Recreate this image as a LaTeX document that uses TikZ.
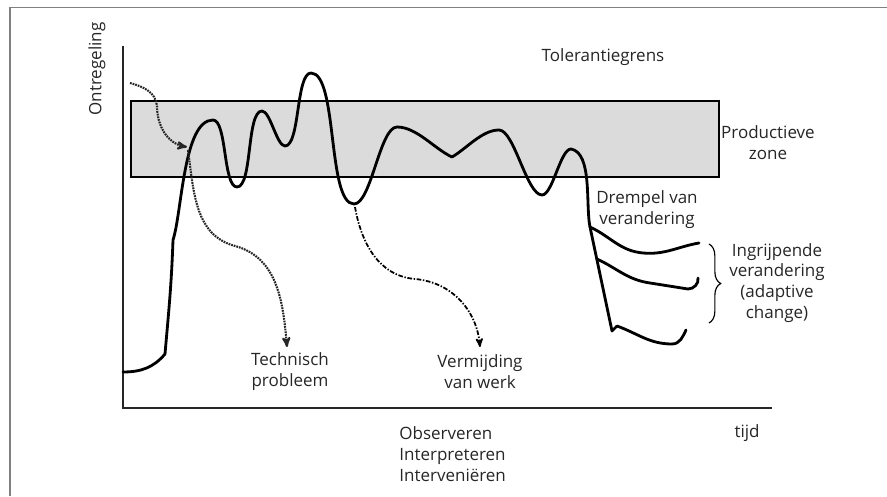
\documentclass[tikz,border=0pt]{standalone}
\usepackage{fontspec}
\setmainfont{Open Sans}
\usetikzlibrary{arrows,decorations.pathreplacing}

\begin{document}
\begin{tikzpicture}[x=0.03cm,y=0.03cm,
        curve/.style={line width=2.4pt, line join=round, line cap=round},
        wave/.style={out=0, in=180, looseness=0.5},
        axis/.style={line width=1.1pt, black!85},
        techline/.style={line width=1.8pt, black!85, dash pattern=on 1.5pt off 0.8pt, -stealth'},
        avoidline/.style={line width=1.5pt, dash pattern=on 4pt off 1.4pt on 1.2pt off 1.4pt, -stealth'},
        lbl/.style={font=\fontsize{14.5}{17.8}\selectfont, text=black!85, align=center, inner sep=1pt}]
        \useasboundingbox (0,0) rectangle (887,496);
        % frame
        \draw[gray, line width=1.3pt] (10,0) -- (10,488.5) -- (887,488.5);
        % axes
        \coordinate (O) at (123,88);
        \coordinate (Y) at (123,450);
        \coordinate (X) at (772,88);
        \draw[axis] (Y) -- (O) -- (X);
        % productive zone
        \draw[fill=black!14, line width=1pt] (131,319) rectangle (719,395);
        % main course
        \coordinate (S) at (123,124);
        \coordinate (T1) at (188,346);
        \coordinate (V1) at (355,289);
        \coordinate (B1) at (590,269);
        \coordinate (B2) at (597,237);
        \coordinate (B3) at (617,170);
        \draw[curve] (S) to[out=0,in=230] (165,142)
                to[out=85,in=268] (173,256)
                to[out=72,in=180,looseness=0.6] (213,376)
                to[wave] (237,309)
                to[wave] (262,385)
                to[wave] (285,350)
                to[wave] (311,423)
                to[wave] (354,292)
                to[wave] (397,369)
                to[out=0,in=155,looseness=0.8] (452,339)
                to[out=30,in=180,looseness=0.8] (499,366)
                to[wave] (542,301)
                to[wave] (571,347)
                to[out=-10,in=102,looseness=0.7] (B1) -- (612,165) -- (B3);
        % branches
        \draw[curve] (B1) to[out=-25,in=175] (643,243) to[out=-5,in=190] (699,253);
        \draw[curve] (B2) to[out=-25,in=172] (650,213) -- (688,207) to[out=0,in=-80] (698,218);
        \draw[curve] (B3) to[out=-20,in=180] (672,152) to[out=0,in=-115] (686,166);
        \draw[line width=1pt, decorate, decoration={brace, amplitude=10pt}] (709,252) -- (709,173);
        % labels
        \node[lbl, rotate=90] (ontr) at (97,427) {Ontregeling};
        \node[lbl] (tol) at (603,439) {Tolerantiegrens};
        \node[lbl] (prod) at (768,353) {Productieve\\zone};
        \node[lbl] (drem) at (647,286) {Drempel van\\verandering};
        \node[lbl] (ingr) at (777,213) {Ingrijpende\\verandering\\(adaptive\\change)};
        \node[lbl] (tech) at (290,124) {Technisch\\probleem};
        \node[lbl] (verm) at (480,124) {Vermijding\\van werk};
        \node[lbl, align=left, anchor=west] (obs) at (398,42) {Observeren\\Interpreteren\\Interveniëren};
        \node[lbl] (tijd) at (747,63) {tijd};
        % side tracks
        \coordinate (T0) at (130,413);
        \coordinate (T2) at (187,349);
        \coordinate (T3) at (287,149);
        \coordinate (V2) at (480,149);
        \draw[techline] (T0) to[out=-15,in=95] (157,390) to[out=-90,in=170] (T2);
        \draw[techline] (T1) to[out=-82,in=165] (235,250) to[out=-15,in=95] (T3);
        \draw[avoidline] (V1) to[out=-80,in=175] (415,217) to[out=-5,in=95] (V2);
\end{tikzpicture}
\end{document}
